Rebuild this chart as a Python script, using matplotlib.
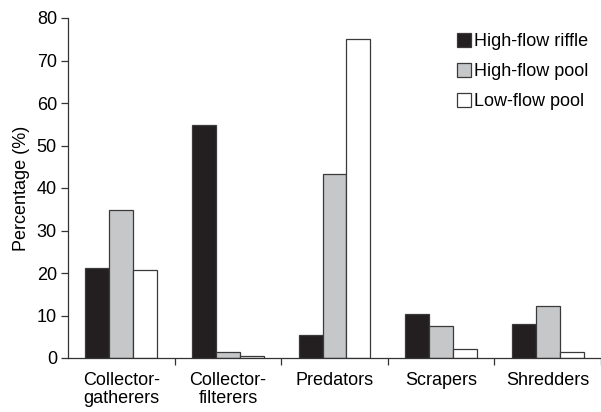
import matplotlib
matplotlib.use("Agg")
import matplotlib.pyplot as plt
import numpy as np

categories = ["Collector-\ngatherers", "Collector-\nfilterers", "Predators", "Scrapers", "Shredders"]
series_names = ["High-flow riffle", "High-flow pool", "Low-flow pool"]
high_flow_riffle = [21.1, 54.8, 5.4, 10.4, 7.9]
high_flow_pool = [34.9, 1.5, 43.4, 7.5, 12.3]
low_flow_pool = [20.7, 0.4, 75.0, 2.2, 1.3]
yticks = [0, 10, 20, 30, 40, 50, 60, 70, 80]

plt.rcParams['font.family'] = ['Liberation Sans', 'DejaVu Sans']
FS = 13

W, H = 601, 412
fig = plt.figure(figsize=(W / 100, H / 100), dpi=100)
ax = fig.add_axes([68 / W, 54 / H, 533 / W, 340 / H])

x = np.arange(len(categories))
bw = 0.225
colors = ["#231f20", "#c6c7c9", "#ffffff"]
edge = "#3a3a3a"
for i, (vals, name, c) in enumerate(zip([high_flow_riffle, high_flow_pool, low_flow_pool], series_names, colors)):
    ax.bar(x + (i - 1) * bw, vals, width=bw, color=c, edgecolor=edge, linewidth=0.9, label=name)

ax.set_xlim(-0.5, len(categories) - 0.5)
ax.set_ylim(0, 80)
ax.set_yticks(yticks)
ax.set_yticklabels([str(t) for t in yticks], fontsize=FS)
ax.set_xticks(x)
ax.set_xticklabels(categories, fontsize=FS, linespacing=1.12)
ax.tick_params(axis='x', length=0, pad=10)
ax.set_xticks(np.arange(len(categories)) + 0.5, minor=True)
ax.tick_params(axis='x', which='minor', length=5, width=0.9, direction='out', color='#333333')
ax.tick_params(axis='y', length=5, width=0.9, direction='out', color='#333333', pad=3)
for s in ['top', 'right']:
    ax.spines[s].set_visible(False)
for s in ['left', 'bottom']:
    ax.spines[s].set_linewidth(0.9)
    ax.spines[s].set_color('#333333')

ax.set_ylabel("Percentage (%)", fontsize=FS, labelpad=5)

leg = ax.legend(loc='upper left', bbox_to_anchor=(457 / W, 1 - 33 / H), bbox_transform=fig.transFigure,
                frameon=False, fontsize=FS, handlelength=0.78, handleheight=0.78,
                handletextpad=0.18, labelspacing=0.72, borderpad=0, borderaxespad=0)

fig.savefig("out.png", dpi=100, facecolor='white')
